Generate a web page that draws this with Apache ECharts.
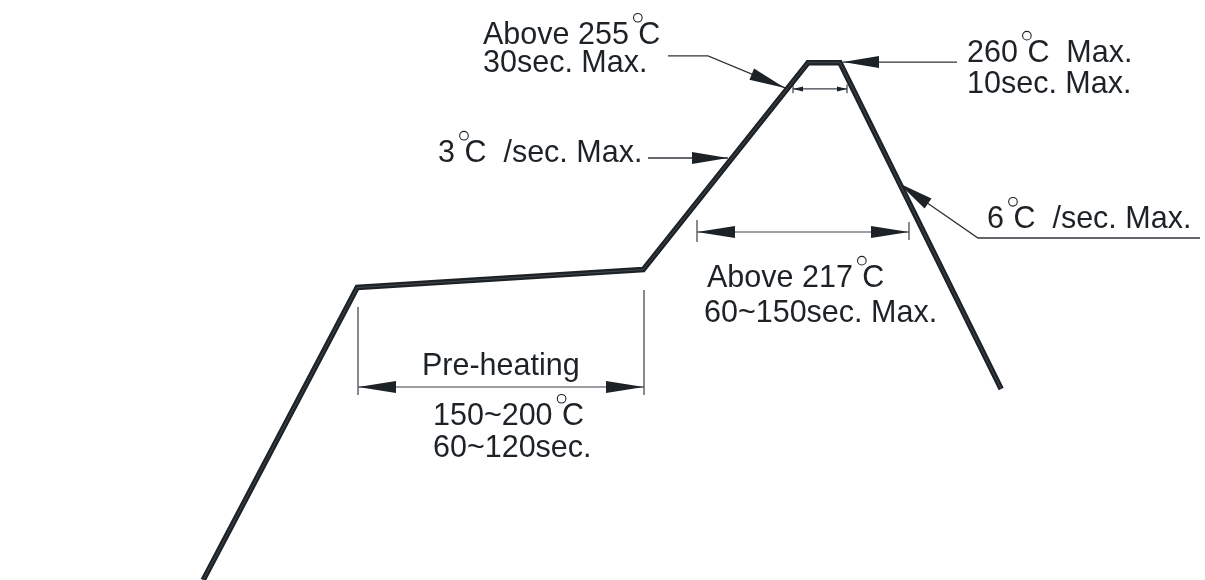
<!DOCTYPE html>
<html><head><meta charset="utf-8">
<script src="https://cdn.jsdelivr.net/npm/echarts@6/dist/echarts.min.js"></script>
<style>html,body{margin:0;padding:0;background:#fff}#c{width:1205px;height:580px}</style>
</head><body><div id="c"></div>
<script>
// Schematic reflow profile: time (s) vs temperature (°C)
const profileTime = [50.8, 89.3, 160.8, 202, 210, 250.3];
const profileTemp = [0, 147, 156, 260, 260, 96];

// Leader lines (time, temp); last point is the arrow tip
const leaderAbove255 = [[167, 263.4], [177, 263.4], [196.25, 247.3]];
const leader260 = [[239.25, 260.3], [210.75, 260.3]];
const leaderRampUp = [[162, 212.1], [182, 212.1]];
const leaderRampDown = [[300, 171.9], [244.5, 171.9], [224.6, 199.5]];

// Dimension lines: start time, end time, temp level, tick ranges (temp)
const dimPeak = {t1: 198.25, t2: 211.75, temp: 246.8, tick1: [244.6, 249.0], tick2: [244.6, 249.0], big: false};
const dimAbove217 = {t1: 174.25, t2: 227.25, temp: 174.9, tick1: [169.9, 180.9], tick2: [170.9, 179.9], big: true};
const dimPreheat = {t1: 89.5, t2: 161, temp: 97, tick1: [93, 137.2], tick2: [93, 145.8], big: true};

// Text labels: [text, time, temp]
const labels = [
  ['Above 255°C', 120.75, 273.8],
  ['30sec. Max.', 120.75, 259.7],
  ['260°C  Max.', 241.75, 264.8],
  ['10sec. Max.', 241.75, 249.2],
  ['3°C  /sec. Max.', 109.5, 214.5],
  ['6°C  /sec. Max.', 246.75, 181.3],
  ['Above 217°C', 176.75, 151.7],
  ['60~150sec. Max.', 176, 134.1],
  ['Pre-heating', 105.5, 107.5],
  ['150~200°C', 108.25, 82.3],
  ['60~120sec.', 108.25, 66.2]
];

const profile = profileTime.map((t, i) => [t, profileTemp[i]]);
const INK = '#1d2227';
const FONT_SIZE = 30.5;
const FONT_FAMILY = '"Liberation Sans", Arial, sans-serif';
const measureCtx = document.createElement('canvas').getContext('2d');
measureCtx.font = FONT_SIZE + 'px ' + FONT_FAMILY;

function renderAnnotations(params, api) {
  const C = p => api.coord(p);
  const kids = [];
  function head(tip, from, len, hw) {
    const dx = from[0] - tip[0], dy = from[1] - tip[1];
    const d = Math.hypot(dx, dy), ux = dx / d, uy = dy / d;
    const bx = tip[0] + ux * len, by = tip[1] + uy * len;
    return {type: 'polygon', shape: {points: [tip, [bx - uy * hw, by + ux * hw], [bx + uy * hw, by - ux * hw]]},
      style: {fill: INK}};
  }
  [leaderAbove255, leader260, leaderRampUp, leaderRampDown].forEach(pts => {
    const px = pts.map(C);
    kids.push({type: 'polyline', shape: {points: px}, style: {stroke: '#30353a', lineWidth: 1.3, fill: null}});
    kids.push(head(px[px.length - 1], px[px.length - 2], 36, 6));
  });
  [dimPeak, dimAbove217, dimPreheat].forEach(d => {
    const a = C([d.t1, d.temp]), b = C([d.t2, d.temp]);
    kids.push({type: 'line', shape: {x1: a[0], y1: a[1], x2: b[0], y2: b[1]}, style: {stroke: '#3a3f44', lineWidth: 1.2}});
    const k1a = C([d.t1, d.tick1[0]]), k1b = C([d.t1, d.tick1[1]]);
    const k2a = C([d.t2, d.tick2[0]]), k2b = C([d.t2, d.tick2[1]]);
    kids.push({type: 'line', shape: {x1: k1a[0], y1: k1a[1], x2: k1b[0], y2: k1b[1]}, style: {stroke: '#3a3f44', lineWidth: 1.2}});
    kids.push({type: 'line', shape: {x1: k2a[0], y1: k2a[1], x2: k2b[0], y2: k2b[1]}, style: {stroke: '#3a3f44', lineWidth: 1.2}});
    const len = d.big ? 38 : 10, hw = d.big ? 6 : 2.5;
    kids.push(head(a, b, len, hw));
    kids.push(head(b, a, len, hw));
  });
  const textStyle = t => ({text: t, fill: INK, fontSize: FONT_SIZE, fontFamily: FONT_FAMILY,
    align: 'left', verticalAlign: 'middle'});
  labels.forEach(l => {
    const p = C([l[1], l[2]]);
    const parts = l[0].split('°');
    kids.push({type: 'text', x: p[0], y: p[1], style: textStyle(parts[0])});
    if (parts.length > 1) {
      const w = measureCtx.measureText(parts[0]).width;
      const gap = 9.5;
      kids.push({type: 'circle', shape: {cx: p[0] + w + gap - 0.5, cy: p[1] - 17.5, r: 4.3},
        style: {stroke: INK, lineWidth: 1.1, fill: null}});
      kids.push({type: 'text', x: p[0] + w + gap, y: p[1], style: textStyle(parts[1])});
    }
  });
  return {type: 'group', children: kids};
}

const chart = echarts.init(document.getElementById('c'));
chart.setOption({
  animation: false,
  backgroundColor: '#ffffff',
  grid: {left: 0, right: 5, top: 3, bottom: 0},
  xAxis: {type: 'value', min: 0, max: 300, show: false},
  yAxis: {type: 'value', min: 0, max: 290, show: false},
  series: [
    {type: 'line', data: profile, symbol: 'none', silent: true,
      lineStyle: {color: INK, width: 5.5, join: 'miter'}},
    {type: 'line', data: profile, symbol: 'none', silent: true,
      lineStyle: {color: '#6d7379', width: 0.8, join: 'miter', opacity: 0.6}},
    {type: 'custom', data: [0], renderItem: renderAnnotations, silent: true, clip: false}
  ]
});
</script></body></html>
